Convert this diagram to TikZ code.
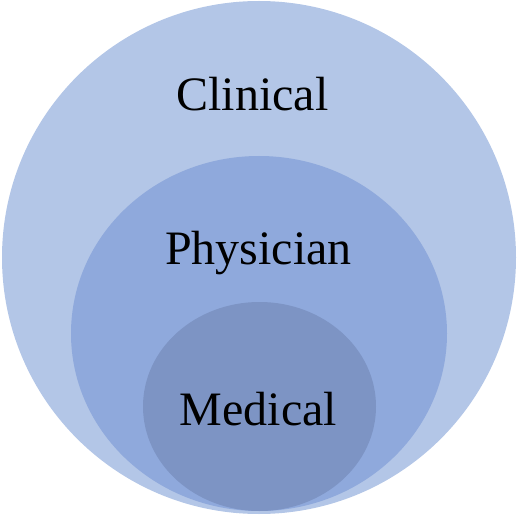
\documentclass[tikz,border=0pt]{standalone}
\usepackage{fontspec}
\setmainfont{Liberation Serif}
\usetikzlibrary{shapes.geometric}

\definecolor{clinblue}{HTML}{B3C6E7}
\definecolor{physblue}{HTML}{8FA9DC}
\definecolor{medblue}{HTML}{7D94C4}

\begin{document}
\begin{tikzpicture}[x=1pt,y=-1pt]
\tikzstyle{ring}=[
	ellipse,
	draw=none,
	inner sep=0pt ]
\tikzstyle{tag}=[
	anchor=base,
	inner sep=0pt,
	font=\fontsize{48}{52}\selectfont ]
\useasboundingbox (0,0) rectangle (520,516);
\node[ring, fill=clinblue, minimum width=514pt, minimum height=513pt] (clinical) at (259,257.5) {};
\node[ring, fill=physblue, minimum width=376pt, minimum height=355pt] (physician) at (259,333.5) {};
\node[ring, fill=medblue, minimum width=233pt, minimum height=209pt] (medical) at (259.5,406.5) {};
\node[tag] (clinicaltext) at (252.5,111) {Clinical};
\node[tag] (physiciantext) at (258.5,265) {Physician};
\node[tag] (medicaltext) at (258.5,425) {Medical};
\end{tikzpicture}
\end{document}
